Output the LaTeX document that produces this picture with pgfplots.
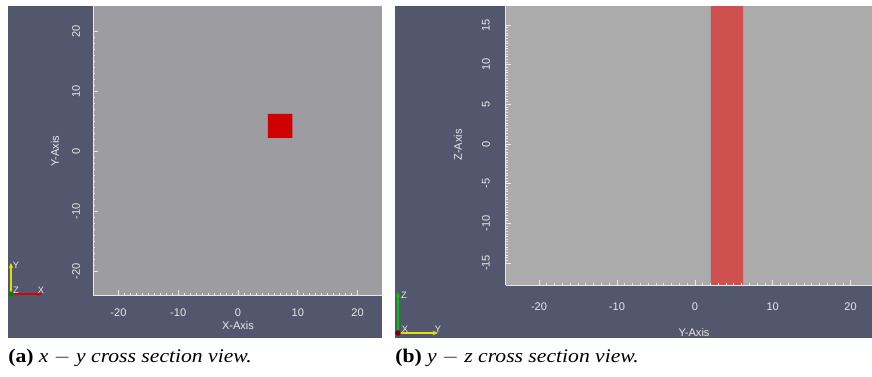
\documentclass[border=0pt]{standalone}
\usepackage{fontspec}
\setmainfont{Liberation Serif}
\newfontfamily\sansf{Liberation Sans}
\usepackage{pgfplots}
\pgfplotsset{compat=1.18}
\usetikzlibrary{arrows.meta}
\definecolor{bgdark}{RGB}{82,87,110}
\definecolor{graya}{RGB}{157,156,161}
\definecolor{grayb}{RGB}{171,171,171}
\definecolor{redsq}{RGB}{206,0,0}
\definecolor{redband}{RGB}{208,80,80}
\definecolor{tickc}{RGB}{232,232,232}
\definecolor{triy}{RGB}{225,225,0}
\definecolor{trig}{RGB}{0,200,0}
\pgfplotsset{pv/.style={
  scale only axis, anchor=south west,
  axis on top,
  axis x line*=bottom, axis y line*=left,
  axis line style={tickc, line width=0.6pt, -},
  tick align=inside,
  every tick/.style={tickc, line width=0.5pt},
  major tick length=4pt, minor tick length=1.7pt,
  tick label style={font=\sansf\fontsize{8.3}{10}\selectfont, text=tickc},
  /pgf/number format/assume math mode=true,
  xticklabel style={anchor=center},
  yticklabel style={anchor=center, rotate=90},
  clip=true,
}}
\begin{document}
\begin{tikzpicture}[x=0.75pt,y=0.75pt]
\useasboundingbox (0,0) rectangle (872,376);
\fill[white] (0,0) rectangle (872,376);
\fill[bgdark] (8,38) rectangle (382,370);
\fill[bgdark] (395,38) rectangle (872,370);
% ---------- panel (a)
\begin{axis}[pv, at={(69.75pt,60.75pt)}, width=216.75pt, height=216.75pt,
  xmin=-24.25, xmax=24.08, ymin=-24.0, ymax=24.17,
  axis background/.style={fill=graya},
  xtick={-20,-10,0,10,20}, ytick={-20,-10,0,10,20},
  minor x tick num=9, minor y tick num=9,
  xticklabel shift=13.5pt, yticklabel shift=12.75pt]
\addplot[fill=redsq, draw=none] coordinates {(5,2.2) (9.1,2.2) (9.1,6.2) (5,6.2) (5,2.2)};
\end{axis}
\node[font=\sansf\fontsize{8.3}{10}\selectfont, text=tickc, anchor=base] at (238,47) {X-Axis};
\node[font=\sansf\fontsize{8.3}{10}\selectfont, text=tickc, rotate=90] at (55,225) {Y-Axis};
% triad (a)
\draw[triy, line width=0.8pt, -{Stealth[length=4pt,width=3.5pt]}] (11,82) -- (11,113);
\draw[red!85!black, line width=0.8pt, -{Stealth[length=4pt,width=3.5pt]}] (11,82) -- (42,82);
\fill[green!50!black] (11,82) circle (2.6);
\node[font=\sansf\fontsize{7}{8}\selectfont, text=tickc] at (16,111) {Y};
\node[font=\sansf\fontsize{7}{8}\selectfont, text=tickc] at (16,86) {Z};
\node[font=\sansf\fontsize{7}{8}\selectfont, text=tickc] at (41,86) {X};
% ---------- panel (b)
\begin{axis}[pv, at={(379.275pt,68.25pt)}, width=274.7pt, height=209.25pt,
  xmin=-24.28, xmax=22.74, ymin=-17.78, ymax=17.4,
  axis background/.style={fill=grayb},
  xtick={-20,-10,0,10,20}, ytick={-15,-10,-5,0,5,10,15},
  minor x tick num=9, minor y tick num=14,
  xticklabel shift=16.5pt, yticklabel shift=14.8pt]
\addplot[fill=redband, draw=none] coordinates {(2.05,-20) (6.2,-20) (6.2,20) (2.05,20) (2.05,-20)};
\end{axis}
\node[font=\sansf\fontsize{8.3}{10}\selectfont, text=tickc, anchor=base] at (694,40) {Y-Axis};
\node[font=\sansf\fontsize{8.3}{10}\selectfont, text=tickc, rotate=90] at (458,231) {Z-Axis};
% triad (b)
\draw[trig, line width=0.8pt, -{Stealth[length=4pt,width=3.5pt]}] (398,43) -- (398,84);
\draw[triy, line width=0.8pt, -{Stealth[length=4pt,width=3.5pt]}] (398,43) -- (438,43);
\fill[red!50!black] (398,43) circle (2.8);
\node[font=\sansf\fontsize{7}{8}\selectfont, text=tickc] at (404,81) {Z};
\node[font=\sansf\fontsize{7}{8}\selectfont, text=tickc] at (405,47) {X};
\node[font=\sansf\fontsize{7}{8}\selectfont, text=tickc] at (438,47) {Y};
% captions
\node[anchor=base west, inner sep=0pt, xscale=1.12, font=\fontsize{14.5}{16}\selectfont] at (8,14) {\textbf{(a)} \textit{x} $-$ \textit{y} \textit{cross section view.}};
\node[anchor=base west, inner sep=0pt, xscale=1.12, font=\fontsize{14.5}{16}\selectfont] at (395,14) {\textbf{(b)} \textit{y} $-$ \textit{z} \textit{cross section view.}};
\end{tikzpicture}
\end{document}
